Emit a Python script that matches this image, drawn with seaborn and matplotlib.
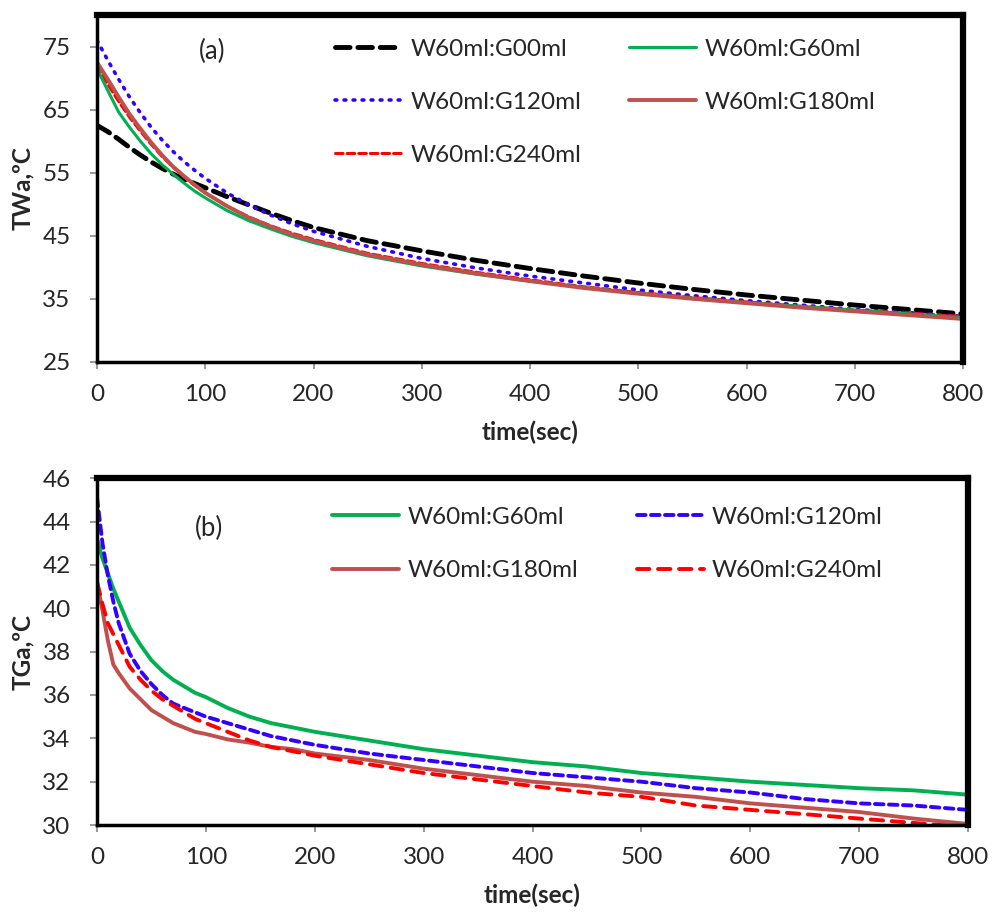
import pandas as pd
import seaborn as sns
import matplotlib.pyplot as plt

# ---- data ----
# panel (a): water temperature TWa (ºC)
t_a = [0, 10, 20, 30, 40, 50, 60, 70, 80, 90, 100, 120, 140, 160, 180, 200,
       250, 300, 350, 400, 450, 500, 550, 600, 650, 700, 750, 800]
twa_g00 = [62.5, 61.5, 60.3, 59.0, 57.8, 56.7, 55.7, 54.8, 54.0, 53.3, 52.6, 51.2, 49.9, 48.6, 47.4, 46.3,
           44.2, 42.6, 41.1, 39.8, 38.6, 37.5, 36.5, 35.6, 34.8, 34.0, 33.3, 32.6]
twa_g60 = [71.5, 68.0, 64.6, 62.2, 60.0, 58.0, 56.3, 54.8, 53.4, 52.1, 51.0, 49.0, 47.4, 46.1, 44.9, 43.9,
           41.8, 40.2, 38.9, 37.8, 36.8, 35.9, 35.1, 34.4, 33.8, 33.2, 32.6, 32.0]
twa_g120 = [76.0, 72.8, 69.8, 67.0, 64.5, 62.2, 60.2, 58.4, 56.8, 55.4, 54.1, 51.8, 49.9, 48.3, 46.9, 45.7,
            43.3, 41.4, 39.9, 38.6, 37.5, 36.4, 35.5, 34.7, 34.0, 33.3, 32.8, 32.2]
twa_g180 = [72.5, 69.8, 67.0, 64.3, 62.0, 59.8, 57.8, 56.0, 54.5, 53.1, 51.8, 49.7, 47.9, 46.5, 45.2, 44.2,
            42.0, 40.4, 39.0, 37.8, 36.7, 35.8, 35.0, 34.3, 33.6, 33.0, 32.4, 31.8]
twa_g240 = [72.0, 69.0, 66.3, 63.8, 61.6, 59.5, 57.6, 55.9, 54.4, 53.0, 51.8, 49.7, 48.0, 46.6, 45.4, 44.4,
            42.2, 40.6, 39.2, 38.0, 36.9, 36.0, 35.2, 34.5, 33.8, 33.2, 32.7, 32.2]

# panel (b): glycerol temperature TGa (ºC)
t_b = [0, 5, 10, 15, 20, 30, 40, 50, 60, 70, 80, 90, 100, 120, 140, 160, 180, 200,
       250, 300, 350, 400, 450, 500, 550, 600, 650, 700, 750, 800]
tga_g60 = [43.2, 42.3, 41.6, 40.9, 40.3, 39.1, 38.3, 37.6, 37.1, 36.7, 36.4, 36.1, 35.9, 35.4, 35.0, 34.7, 34.5, 34.3,
           33.9, 33.5, 33.2, 32.9, 32.7, 32.4, 32.2, 32.0, 31.85, 31.7, 31.6, 31.4]
tga_g120 = [45.1, 43.0, 41.5, 40.3, 39.3, 37.9, 37.1, 36.5, 36.0, 35.6, 35.4, 35.2, 35.0, 34.7, 34.4, 34.1, 33.9, 33.7,
            33.3, 33.0, 32.7, 32.4, 32.2, 32.0, 31.7, 31.5, 31.2, 31.0, 30.9, 30.7]
tga_g180 = [41.2, 39.9, 38.5, 37.4, 37.0, 36.3, 35.8, 35.3, 35.0, 34.7, 34.5, 34.3, 34.2, 33.95, 33.8, 33.6, 33.5, 33.3,
            33.0, 32.6, 32.3, 32.0, 31.8, 31.5, 31.3, 31.0, 30.8, 30.6, 30.3, 30.05]
tga_g240 = [41.2, 40.2, 39.3, 38.8, 38.3, 37.3, 36.7, 36.2, 35.8, 35.5, 35.2, 34.9, 34.7, 34.3, 33.9, 33.6, 33.4, 33.2,
            32.8, 32.4, 32.1, 31.8, 31.5, 31.3, 30.9, 30.7, 30.5, 30.3, 30.1, 29.9]

sns.set_style("white")
plt.rcParams['font.family'] = ['Lato', 'DejaVu Sans']
FS = 17.5

fig = plt.figure(figsize=(9.92, 9.16), dpi=100)
ax_a = fig.add_axes([0.0978, 0.605, 0.873, 0.3786])
ax_b = fig.add_axes([0.0978, 0.0993, 0.878, 0.3787])

# (series, label, color, dashes, width) -- listed in legend column order
style_a = [
    (twa_g00, 'W60ml:G00ml', 'black', (3, 1.6), 3.5),
    (twa_g120, 'W60ml:G120ml', '#3300ff', (0.5, 2.0), 2.6),
    (twa_g240, 'W60ml:G240ml', '#ff0000', (2.5, 1.3), 2.2),
    (twa_g60, 'W60ml:G60ml', '#00b050', None, 2.2),
    (twa_g180, 'W60ml:G180ml', '#c0504d', None, 2.8),
]
style_b = [
    (tga_g60, 'W60ml:G60ml', '#00b050', None, 2.8),
    (tga_g180, 'W60ml:G180ml', '#c0504d', None, 2.8),
    (tga_g120, 'W60ml:G120ml', '#3300ff', (2.2, 1.4), 2.8),
    (tga_g240, 'W60ml:G240ml', '#ff0000', (3.2, 2.2), 2.8),
]


def draw(ax, t, styles):
    for vals, label, color, dashes, lw in styles:
        df = pd.DataFrame({'t': t, 'T': vals})
        sns.lineplot(data=df, x='t', y='T', ax=ax, color=color, lw=lw, label=label)
        if dashes is not None:
            ax.lines[-1].set_dashes(dashes)
            ax.lines[-1].set_dash_capstyle('round')


draw(ax_a, t_a, style_a)
draw(ax_b, t_b, style_b)

ax_a.set_xlim(0, 800)
ax_a.set_ylim(25, 80)
ax_a.set_yticks([25, 35, 45, 55, 65, 75])
ax_b.set_xlim(0, 800)
ax_b.set_ylim(30, 46)
ax_b.set_yticks(range(30, 47, 2))

for ax, ylab in [(ax_a, 'TWa,ºC'), (ax_b, 'TGa,ºC')]:
    ax.set_xticks(range(0, 801, 100))
    ax.set_xlabel('time(sec)', fontsize=FS, fontweight='bold', labelpad=11)
    ax.set_ylabel(ylab, fontsize=FS, fontweight='bold', labelpad=6)
    ax.tick_params(labelsize=FS, direction='out', length=5, width=1.2, color='#888888',
                   left=True, bottom=True)
    ax.tick_params(axis='x', pad=11)
    ax.tick_params(axis='y', pad=14)
    for side in ['top', 'right']:
        ax.spines[side].set_linewidth(4.5)
        ax.spines[side].set_color('black')
    for side in ['left', 'bottom']:
        ax.spines[side].set_linewidth(2.5)
        ax.spines[side].set_color('black')
    ax.grid(False)

ax_a.text(0.133, 0.895, '(a)', transform=ax_a.transAxes, fontsize=FS + 1, ha='center', va='center')
ax_b.text(0.128, 0.855, '(b)', transform=ax_b.transAxes, fontsize=FS + 1, ha='center', va='center')

leg_kw = dict(ncol=2, loc='upper left', frameon=False, fontsize=FS, handlelength=2.75,
              handletextpad=0.35, labelspacing=1.32, borderaxespad=0)
ax_a.legend(bbox_to_anchor=(0.264, 0.96), columnspacing=1.95, **leg_kw)
ax_b.legend(bbox_to_anchor=(0.259, 0.945), columnspacing=2.4, **leg_kw)

fig.savefig('out.png', dpi=100)
